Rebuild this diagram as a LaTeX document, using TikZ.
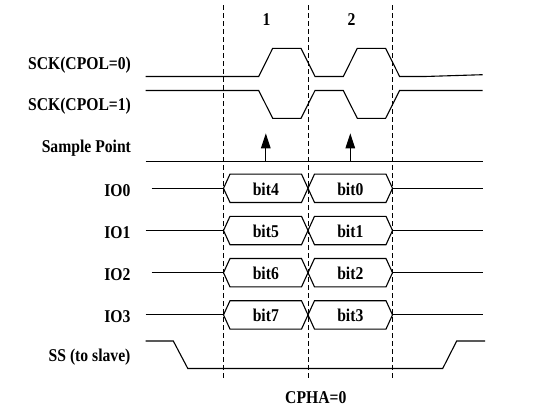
\documentclass[tikz,border=0pt]{standalone}
\usepackage{fontspec}
\setmainfont{Liberation Serif}[FakeStretch=0.87]
\usepackage{tikz}
\usetikzlibrary{arrows.meta}

\begin{document}
\begin{tikzpicture}[x=1pt, y=-1pt, line width=1.1pt, line join=miter,
  lbl/.style={anchor=base east, inner sep=0pt, font=\fontsize{18}{20}\selectfont\bfseries},
  txt/.style={anchor=base, inner sep=0pt, font=\fontsize{18}{20}\selectfont\bfseries},
  edge/.style={dash pattern=on 5pt off 3pt, line width=0.9pt},
  sig/.style={line width=1.1pt}]
\useasboundingbox (0,0) rectangle (546,407);
% cycle marks
\foreach \x/\n in {223.5/a,308/b,392.5/c}
  \draw[edge] (\x,5) coordinate (top\n) -- (\x,379) coordinate (bot\n);
\node[txt] (one) at (266.5,25.3) {1};
\node[txt] (two) at (351.5,25.3) {2};
% clock lines
\node[lbl] (sck0) at (131.5,69) {SCK(CPOL=0)};
\draw[sig] (145.6,76.5) -- (258.7,76.5) -- ++(14,-28.2) -- ++(28.3,0) -- ++(14,28.2) -- ++(28.3,0)
  -- ++(14,-28.2) -- ++(28.3,0) -- ++(14,28.2) -- (425,76.5) -- (482.6,74.7);
\node[lbl] (sck1) at (131.5,110.7) {SCK(CPOL=1)};
\draw[sig] (145.6,90.5) -- (258.7,90.5) -- ++(14,27.8) -- ++(28.3,0) -- ++(14,-27.8) -- ++(28.3,0)
  -- ++(14,27.8) -- ++(28.3,0) -- ++(14,-27.8) -- (482.6,90.5);
% sample point
\node[lbl] (smp) at (131.5,152.7) {Sample Point};
\draw[sig] (145.6,161.7) -- (482.6,161.7);
\foreach \x/\n in {265.8/1,350.3/2}{
  \coordinate (s\n) at (\x,161.7);
  \coordinate (t\n) at (\x,133.3);
  \draw[sig, -{Triangle[width=9.5pt,length=15pt]}] (s\n) -- (t\n);
}
% data lines
\foreach \y/\i/\s/\a/\b in {188.3/0/151.6/4/0, 230.5/1/145.6/5/1, 272.7/2/151.6/6/2, 314.9/3/145.6/7/3}{
  \node[lbl] (io\i) at (131,\y+8) {IO\i};
  \draw[sig] (\s,\y) -- (223.5,\y);
  \draw[sig] (223.5,\y) -- ++(6.5,-14.2) -- (301.5,\y-14.2) -- (308,\y) -- (301.5,\y+14.2) -- (230,\y+14.2) -- cycle;
  \draw[sig] (308,\y) -- ++(6.5,-14.2) -- (386,\y-14.2) -- (392.5,\y) -- (386,\y+14.2) -- (314.5,\y+14.2) -- cycle;
  \draw[sig] (392.5,\y) -- (482.6,\y);
  \node[txt] (b\a) at (265.8,\y+6.8) {bit\a};
  \node[txt] (b\b) at (350.3,\y+6.8) {bit\b};
}
% slave select
\node[lbl] (ss) at (131,361.7) {SS (to slave)};
\draw[sig] (145.6,341) -- (173.3,341) -- (187.8,368.5) -- (442.7,368.5) -- (456.7,341) -- (485,341);
\node[txt] (cpha) at (315.8,403.5) {CPHA=0};
\end{tikzpicture}
\end{document}
